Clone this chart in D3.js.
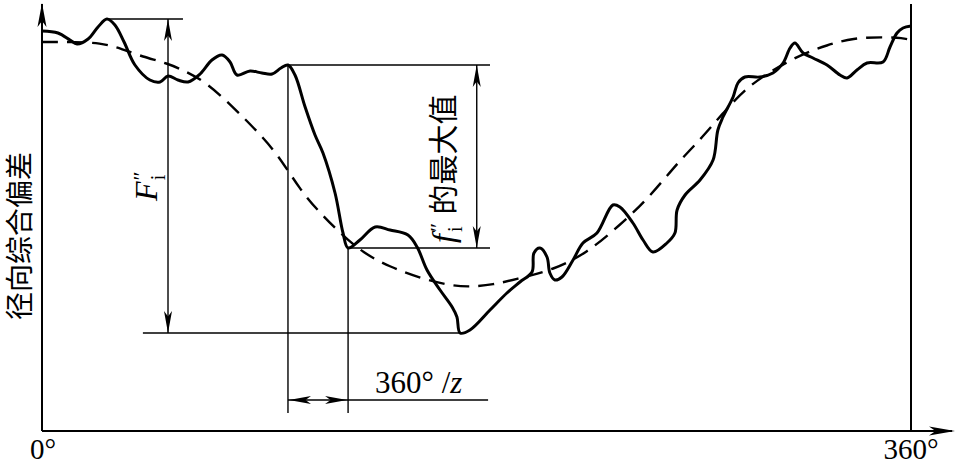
<!DOCTYPE html>
<html>
<head>
<meta charset="utf-8">
<title>径向综合偏差</title>
<script src="https://cdn.jsdelivr.net/npm/d3@7"></script>
<style>
body{margin:0;background:#fff}
</style>
</head>
<body>
<svg width="955" height="466"></svg>
<script>
/* 测得的径向综合偏差曲线（实线），横坐标为转角° */
var angles=[0,6.6,11.6,14.5,19.1,23.2,26.9,30.2,34.0,38.5,
	44.7,48.9,52.2,56.3,60.5,65.5,70.4,74.6,77.9,80.8,
	86.2,91.1,95.3,99.0,101.9,104.8,109.0,113.1,116.4,121.4,
	124.7,126.8,131.7,138.0,144.2,151.6,155.4,159.5,164.9,169.9,
	171.9,173.2,177.3,185.6,192.6,198.0,203.0,203.8,206.3,209.2,
	210.4,212.5,215.4,220.0,224.1,229.9,236.5,239.4,244.8,249.0,
	253.1,258.9,262.2,263.1,266.4,272.6,278.0,280.0,282.1,286.3,
	288.3,291.2,297.4,302.8,307.0,309.9,311.9,315.3,319.4,325.2,
	330.6,333.5,337.6,341.8,348.4,351.3,354.2,356.7,360];
var measured=[384,382,375,371,376,388,396,390,373,350,
	335,333,339,335,333,341,355,360,353,340,
	344,342,341,347,350,340,308,280,262,222,
	182,167,175,188,185,180,168,145,125,108,
	98,82,85,105,122,133,143,162,167,158,
	142,135,138,155,172,182,210,208,192,175,
	163,172,182,205,220,235,255,285,298,318,
	332,338,338,342,352,367,372,362,357,350,
	340,337,345,352,353,368,382,387,389];

/* 长周期分量（虚线） */
var fitAngles=[0,14.5,24.0,32.3,41.8,51.8,60.1,68.4,79.1,87.4,
	97.4,106.9,115.2,123.5,133.0,144.2,156.6,167.8,176.1,186.8,
	198.0,211.7,225.8,239.4,250.6,264.3,272.6,282.1,292.1,302.8,
	314.0,325.2,336.0,348.4,356.7,360];
var fitted=[373,373,372,367,358,352,343,332,308,288,
	262,225,202,182,162,148,137,130,128,130,
	137,145,162,190,215,255,275,302,328,345,
	360,370,377,378,377,375];

var xTicks=[0,360];
var toothFrom=101.9, toothTo=126.8;   /* 一个齿距 360°/z */

var svg=d3.select("svg");
var x=d3.scaleLinear().domain([0,360]).range([42,911]);
var y=d3.scaleLinear().domain([-16,410]).range([431,5]);

function arrow(px,py,dir,len,hw){
	/* dir: 方向角（弧度），箭头尖在(px,py) */
	var c=Math.cos(dir),s=Math.sin(dir);
	var bx=px-c*len,by=py-s*len;
	var mx=px-c*len*0.75,my=py-s*len*0.75;
	svg.append("path")
	.attr("d","M"+px+","+py+"L"+(bx-s*hw)+","+(by+c*hw)+"L"+mx+","+my+"L"+(bx+s*hw)+","+(by-c*hw)+"Z")
	.attr("fill","#000");
}
function line(x1,y1,x2,y2,w){
	svg.append("line")
	.attr("x1",x1).attr("y1",y1).attr("x2",x2).attr("y2",y2)
	.attr("stroke","#000").attr("stroke-width",w||1.4);
}

/* 坐标轴 */
var x0=x(0),yb=y(-16);
line(x0,yb,952,yb,2);
line(x0,yb,x0,4,2);
line(x(360),yb,x(360),4,2);
arrow(x0,3,-Math.PI/2,24,4.5);
arrow(955,yb,0,26,4.5);

svg.selectAll(".tick").data(xTicks).enter().append("text")
.attr("x",function(d){return x(d)+(d==0?1:0);})
.attr("y",459)
.attr("text-anchor","middle")
.attr("font-family","Liberation Serif")
.attr("font-size",29)
.text(function(d){return d+"°";});

svg.append("text")
.attr("transform","translate(30,236) rotate(-90)")
.attr("text-anchor","middle")
.attr("font-family","Noto Sans CJK SC")
.attr("font-size",28)
.text("径向综合偏差");

/* 曲线 */
var solid=d3.line()
.x(function(d,i){return x(angles[i]);})
.y(function(d){return y(d);})
.curve(d3.curveCatmullRom);
var dashed=d3.line()
.x(function(d,i){return x(fitAngles[i]);})
.y(function(d){return y(d);})
.curve(d3.curveBasis);

svg.append("path").attr("d",dashed(fitted))
.attr("fill","none").attr("stroke","#000").attr("stroke-width",2.4)
.attr("stroke-dasharray","16,9");
svg.append("path").attr("d",solid(measured))
.attr("fill","none").attr("stroke","#000").attr("stroke-width",3)
.attr("stroke-linejoin","round");

/* F''i：最高点与最低点之差 */
var iMax=d3.maxIndex(measured),iMin=d3.minIndex(measured);
var yTop=y(measured[iMax]),yBot=y(measured[iMin]);
var fx=x(52.2);
line(x(angles[iMax]),yTop,x(58.4),yTop);
line(x(41.8),yBot,x(angles[iMin]),yBot);
line(fx,yTop,fx,yBot);
arrow(fx,yTop,-Math.PI/2,22,4);
arrow(fx,yBot,Math.PI/2,22,4);

var tF=svg.append("text")
.attr("transform","translate(157,201) rotate(-90)")
.attr("font-family","Liberation Serif")
.attr("font-size",32);
tF.append("tspan").attr("font-style","italic").text("F");
tF.append("tspan").attr("font-size",22).attr("dx",1).attr("dy",-9).text("″");
tF.append("tspan").attr("font-size",20).attr("dx",-9).attr("dy",17).text("i");

/* f''i 与 360°/z */
var iFrom=angles.indexOf(toothFrom),iTo=angles.indexOf(toothTo);
var yHi=y(measured[iFrom]),yLo=y(measured[iTo]);
var ax=x(180.1),ex=x(185.6);
var xa=x(toothFrom),xb=x(toothTo);
line(xa,yHi,ex,yHi);
line(xb,yLo,ex,yLo);
line(ax,yHi,ax,yLo);
arrow(ax,yHi,-Math.PI/2,22,4);
arrow(ax,yLo,Math.PI/2,22,4);
line(xa,yHi,xa,y(2));
line(xb,yLo,xb,y(2));
var yd=y(15);
line(xa,yd,x(184.8),yd);
arrow(xa+1,yd,Math.PI,22,4);
arrow(xb-1,yd,0,22,4);

var tf=svg.append("text")
.attr("transform","translate(454,243) rotate(-90)")
.attr("font-family","Liberation Serif")
.attr("font-size",32);
tf.append("tspan").attr("font-style","italic").text("f");
tf.append("tspan").attr("font-size",22).attr("dx",2).attr("dy",-9).text("″");
tf.append("tspan").attr("font-size",20).attr("dx",-9).attr("dy",17).text("i");
tf.append("tspan").attr("font-family","Noto Sans CJK SC").attr("font-size",30)
.attr("dx",12).attr("dy",-8).text("的最大值");

var tz=svg.append("text")
.attr("x",375).attr("y",393)
.attr("font-family","Liberation Serif")
.attr("font-size",31);
tz.append("tspan").text("360° /");
tz.append("tspan").attr("font-style","italic").text("z");
</script>
</body>
</html>
